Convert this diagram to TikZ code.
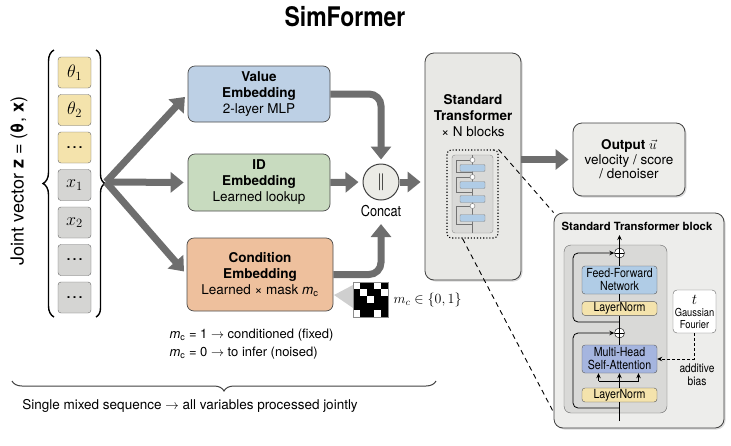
\documentclass[tikz,border=0pt]{standalone}
\usepackage{fix-cm}
\usepackage{amsmath,amssymb}
\usepackage{fontspec}
\setmainfont{TeX Gyre Heros}
\newfontfamily\condfont{TeX Gyre Heros}[FakeStretch=0.85]
\usepackage{xcolor}
\usepackage{tikz}
\usetikzlibrary{arrows.meta, positioning, calc, shadows, decorations.pathreplacing}
\definecolor{cARR}{HTML}{6E6E6E}
\definecolor{cTHETA}{HTML}{F4E3AC}
\definecolor{cXV}{HTML}{D5D5D3}
\definecolor{cVAL}{HTML}{BDD0E5}
\definecolor{cID}{HTML}{C8DBBF}
\definecolor{cCOND}{HTML}{EEC09D}
\definecolor{cCON}{HTML}{EBEBE6}
\definecolor{cTF}{HTML}{E8E8E5}
\definecolor{cOUT}{HTML}{EDEDEA}
\definecolor{cBLK}{HTML}{EDEDEB}
\definecolor{cBLKIN}{HTML}{D9D9D7}
\definecolor{cFFN}{HTML}{B0CCE6}
\definecolor{cMHA}{HTML}{A5B5DF}
\definecolor{cTRI}{HTML}{CFCFCF}

\tikzset{
  cell/.style={draw=black!60, rounded corners=3pt, minimum width=33pt, minimum height=31pt,
    inner sep=0pt, font=\fontsize{18}{18}\selectfont},
  embbox/.style={draw=black!70, rounded corners=7pt, minimum width=142pt, align=center,
    line width=0.7pt, font=\fontsize{13.5}{16}\selectfont},
  fat/.style={draw=cARR, line width=7pt, shorten >=4pt, -{Triangle[length=13pt,width=20pt]}},
  softbox/.style={draw=black!75, rounded corners=9pt, line width=0.8pt,
    drop shadow={opacity=0.3, shadow xshift=1.5pt, shadow yshift=-1.5pt}},
  layer/.style={draw=black!65, rounded corners=3pt, minimum width=75pt, inner sep=1pt,
    align=center, font=\condfont\fontsize{12.5}{13}\selectfont},
  plusc/.style={circle, draw, fill=white, minimum size=10pt, inner sep=0pt,
    path picture={\draw (path picture bounding box.north) -- (path picture bounding box.south)
      (path picture bounding box.west) -- (path picture bounding box.east);}},
  thinarr/.style={line width=0.8pt, -{Stealth[length=5pt,width=4.5pt]}},
}

\begin{document}
\begin{tikzpicture}[x=1pt, y=-1pt, every node/.style={font=\fontsize{13.5}{16}\selectfont}]
  \useasboundingbox (0,0) rectangle (731,445);

  % title
  \node[font=\condfont\bfseries\fontsize{27}{30}\selectfont] (title) at (345,17) {SimFormer};

  % joint vector column
  \node[rotate=90, font=\fontsize{18}{20}\selectfont] (jv) at (19,181) {Joint vector \textbf{z} = (\textbf{θ}, \textbf{x})};
  \foreach \lbl/\col [count=\i] in {$\theta_1$/cTHETA, $\theta_2$/cTHETA, \dots/cTHETA,
      $x_1$/cXV, $x_2$/cXV, \dots/cXV, \dots/cXV}
    \node[cell, fill=\col] (c\i) at (74.5, {72.5+37.5*(\i-1)}) {\lbl};
  \draw[decorate, decoration={brace, amplitude=11pt}, line width=1.4pt] (54,317) -- (54,50);
  \draw[decorate, decoration={brace, amplitude=9pt}, line width=1.4pt] (96,50) -- (96,317);
  \coordinate (fan) at (106,182);

  % embeddings
  \node[embbox, fill=cVAL, minimum height=56pt] (val) at (259,94)
    {\textbf{Value}\\\textbf{Embedding}\\2-layer MLP};
  \node[embbox, fill=cID, minimum height=57pt] (idb) at (259,182.5)
    {\textbf{ID}\\\textbf{Embedding}\\Learned lookup};
  \node[embbox, fill=cCOND, minimum width=146pt, minimum height=73pt] (cond) at (260,274.5)
    {\textbf{Condition}\\\textbf{Embedding}\\Learned × mask \textit{m}\textsubscript{c}};
  \draw[fat] (fan) -- (val.west);
  \draw[fat] (fan) -- (idb.west);
  \draw[fat] (fan) -- (cond.west);

  % concat
  \node[circle, draw=black!75, fill=cCON, line width=1pt, minimum size=36pt,
    font=\fontsize{17}{17}\selectfont] (concat) at (381,182) {$\|$};
  \node[below=1pt of concat, font=\condfont\fontsize{15}{17}\selectfont] (concatlbl) {Concat};
  \draw[fat, rounded corners=12pt] (val.east) -| (concat.north);
  \draw[fat] (idb.east) -- (concat.west);
  \draw[fat, rounded corners=12pt] (cond.east) -| (concatlbl.south);

  % mask
  \fill[cTRI] (353,285) -- (334,295) -- (353,308) -- cycle;
  \node[fill=black, minimum size=35pt, inner sep=0pt] (mask) at (370.5,299.5) {};
  \foreach \r/\c in {0/0, 0/3, 1/1, 1/4, 2/2, 4/0, 4/3}
    \fill[white] ($(mask.north west)+(\c*7,\r*7)$) rectangle ++(7,7);
  \draw[black!45, line width=0.6pt] (mask.north west) rectangle (mask.south east);
  \node[right=2pt of mask, font=\fontsize{14}{14}\selectfont] (mclbl) {$m_c \in \{0,1\}$};
  \node[anchor=west, align=left, font=\fontsize{13}{18}\selectfont] (notes) at (166,344)
    {\textit{m}\textsubscript{c} = 1 $\rightarrow$ conditioned (fixed)\\
     \textit{m}\textsubscript{c} = 0 $\rightarrow$ to infer (noised)};

  % transformer
  \node[softbox, fill=cTF, minimum width=96pt, minimum height=227pt] (tf) at (473,166.5) {};
  \node[align=center] (tftext) at (473,116) {\textbf{Standard}\\\textbf{Transformer}\\× N blocks};
  \draw[fat] (concat.east) -- (tf.west |- concat.east);
  \node[draw, dotted, line width=1.1pt, rounded corners=4pt, minimum width=51pt,
    minimum height=88pt] (mini) at (472.5,194) {};
  \draw[draw=black!45, fill=cBLKIN, rounded corners=3pt] (452,155) rectangle (493,233);
  \draw[black!55] (472.5,233) -- (472.5,155);
  \draw[black!55] (472.5,224) -- (456,224) -- (456,206) -- (470,206);
  \draw[black!55] (472.5,192) -- (456,192) -- (456,177) -- (470,177);
  \draw[black!55] (472.5,172) -- (456,172) -- (456,160) -- (470,160);
  \foreach \yy in {168,185,199,218}
    \draw[black!45, fill=cFFN, rounded corners=1pt] (460,\yy-3.5) rectangle (485,\yy+3.5);
  \foreach \yy in {160,177,206}
    \draw[black!55, fill=white] (472.5,\yy) circle (2.5);

  % output
  \node[softbox, fill=cOUT, minimum width=112pt, minimum height=73pt, align=center,
    font=\fontsize{13.5}{14.5}\selectfont] (out) at (629,159.5)
    {\textbf{Output} $\vec{u}$\\velocity / score\\/ denoiser};
  \draw[fat] (tf.east |- out.west) -- (out.west);

  % transformer block detail
  \node[softbox, fill=cBLK, minimum width=170pt, minimum height=215pt] (blk) at (639,320.5) {};
  \node[font=\bfseries\fontsize{11.3}{13}\selectfont] (blktitle) at (637,226) {Standard Transformer block};
  \node[draw=black!60, fill=cBLKIN, rounded corners=7pt, minimum width=103pt,
    minimum height=168pt] (inner) at (615.5,329) {};
  \draw[dash pattern=on 5pt off 4pt, line width=0.9pt] (mini.north east) -- (blk.north west);
  \draw[dash pattern=on 5pt off 4pt, line width=0.9pt] ([xshift=-10pt]mini.south) -- ([yshift=16pt]blk.south west);

  \node[layer, fill=cFFN, minimum height=28pt] (ffn) at (619.5,280) {Feed-Forward\\Network};
  \node[layer, fill=cTHETA, minimum height=13pt] (ln2) at (619.5,308.5) {LayerNorm};
  \node[layer, fill=cMHA, minimum height=28pt] (mhsa) at (619.5,359) {Multi-Head\\Self-Attention};
  \node[layer, fill=cTHETA, minimum height=14pt] (ln1) at (619.5,395) {LayerNorm};
  \node[plusc] (plus1) at (619.5,333) {};
  \node[plusc] (plus2) at (619.5,253) {};
  \coordinate (blkin) at (619.5,421);
  \coordinate (blkout) at (619.5,235);
  \coordinate (split) at (619.5,381);
  \coordinate (res1) at (619.5,408);
  \coordinate (res2) at (619.5,322);
  \coordinate (bend1) at (573,333);
  \coordinate (bend2) at (573,253);

  \draw[line width=0.9pt] (blkin) -- (ln1.south) (ln1.north) -- (split);
  \draw[line width=0.9pt] ([xshift=-21pt]split) -- ([xshift=19pt]split);
  \foreach \dx in {-21,0,19}
    \draw[thinarr] ([xshift=\dx pt]split) -- ([xshift=\dx pt]mhsa.south);
  \draw[line width=0.9pt] (mhsa.north) -- (plus1.south) (plus1.north) -- (ln2.south)
    (ln2.north) -- (ffn.south) (ffn.north) -- (plus2.south);
  \draw[thinarr] (plus2.north) -- (blkout);
  \draw[thinarr, rounded corners=5pt] (res1) -| (bend1) -- (plus1.west);
  \draw[thinarr, rounded corners=5pt] (res2) -| (bend2) -- (plus2.west);

  \node[draw=black!60, fill=white, rounded corners=4pt, minimum width=43pt, minimum height=43pt,
    inner sep=1pt, align=center, font=\condfont\fontsize{11}{12}\selectfont] (tbox) at (694.5,311.5)
    {{\fontsize{15}{15}\selectfont$t$}\\Gaussian\\Fourier};
  \draw[thinarr, dash pattern=on 3pt off 2pt] (tbox.south) |- (mhsa.east);
  \node[align=center, font=\condfont\fontsize{12}{13}\selectfont] (bias) at (697,375) {additive\\bias};

  % bottom brace
  \draw[decorate, decoration={brace, amplitude=10pt}, line width=1pt, black!75] (436,381) -- (12,381);
  \node (summary) at (190,406) {Single mixed sequence $\rightarrow$ all variables processed jointly};
\end{tikzpicture}
\end{document}
